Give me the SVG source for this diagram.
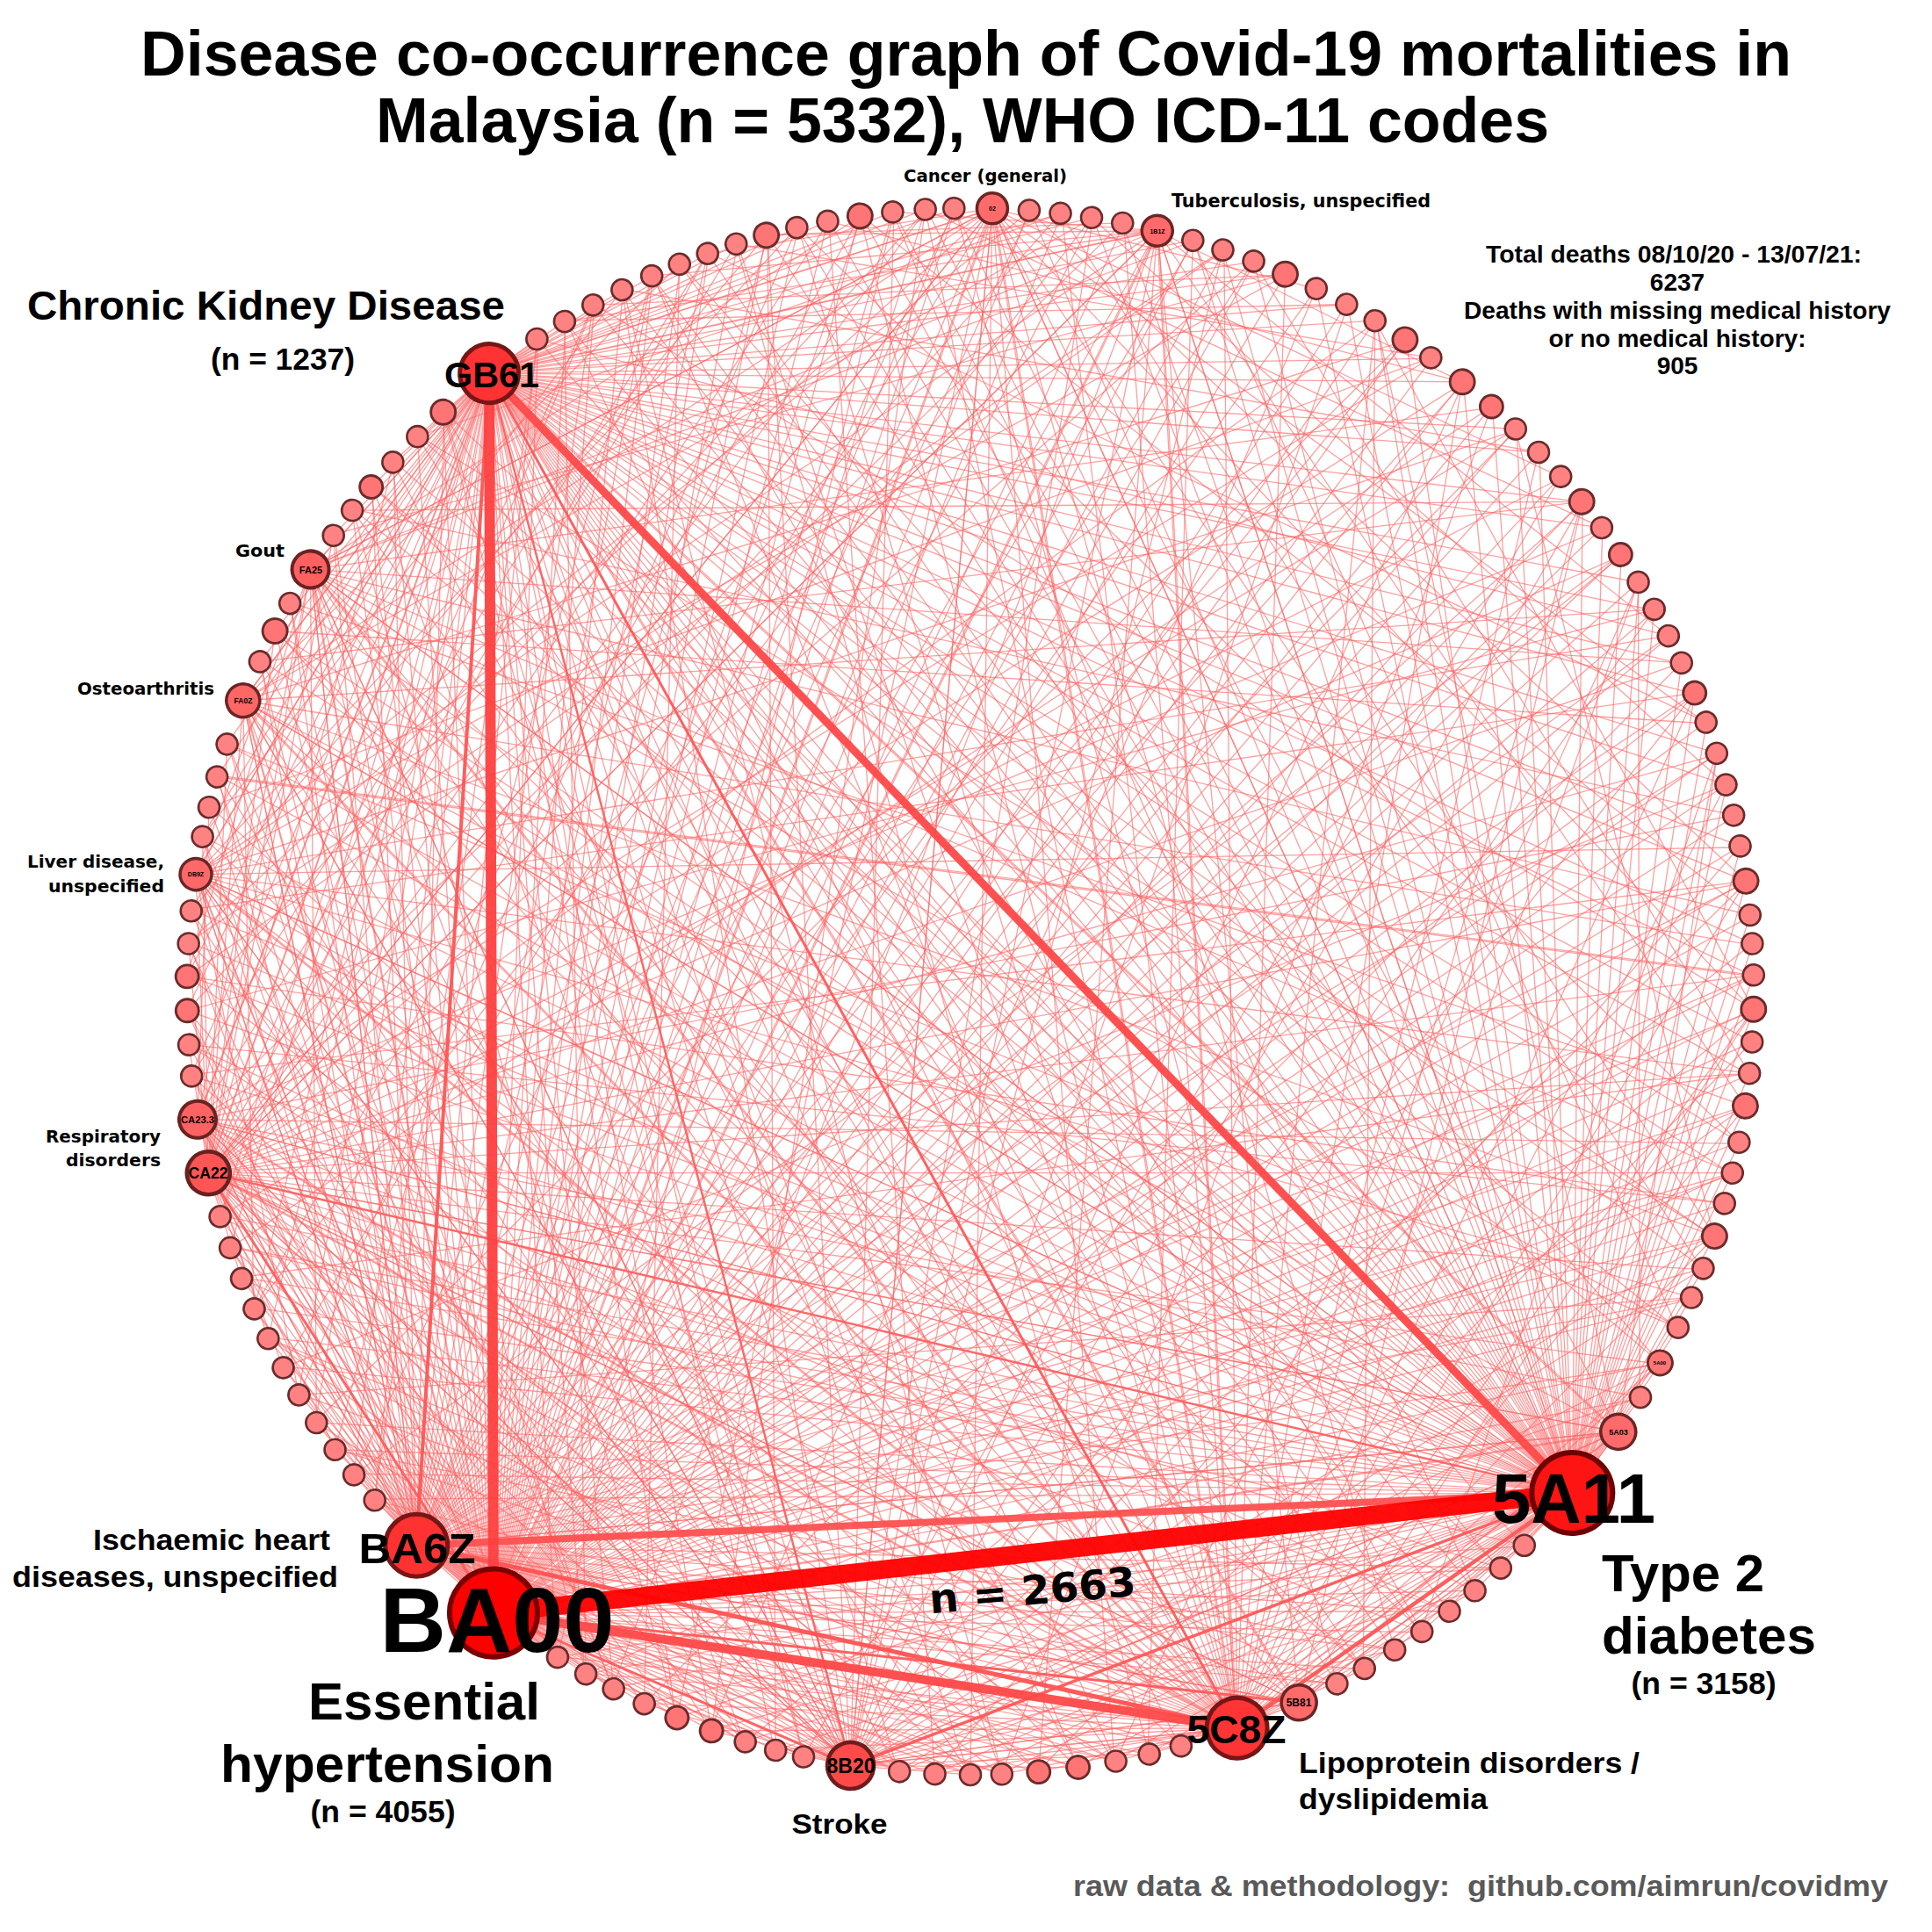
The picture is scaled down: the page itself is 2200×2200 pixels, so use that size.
<svg xmlns="http://www.w3.org/2000/svg" width="2200" height="2200" viewBox="0 0 2200 2200">
<style>
.t{stroke:#ff6464;stroke-width:1.3;stroke-opacity:.62;fill:none}
.k{fill:none;stroke-opacity:.95}
.s{fill:#ff8282;stroke:#6b2b2b;stroke-width:2.6}
.m{fill:#ff7575;stroke:#6b2b2b;stroke-width:2.9}
.a{font-family:"Liberation Sans",Arial,sans-serif;font-weight:bold;fill:#000}
.d{font-family:"DejaVu Sans",Verdana,sans-serif;font-weight:bold;fill:#000}
</style>
<defs>
<line id="e" x2="1800"/>
<clipPath id="cc"><circle cx="1105" cy="1129" r="892"/></clipPath>
</defs>
<rect width="2200" height="2200" fill="#fff"/>
<g id="title" class="a" text-anchor="middle" font-size="72">
<text x="1100" y="86" textLength="1880" lengthAdjust="spacingAndGlyphs">Disease co-occurrence graph of Covid-19 mortalities in</text>
<text x="1096" y="162" textLength="1336" lengthAdjust="spacingAndGlyphs">Malaysia (n = 5332), WHO ICD-11 codes</text>
</g>
<g id="stats" class="a" text-anchor="middle" font-size="28">
<text x="1906" y="299" textLength="428" lengthAdjust="spacingAndGlyphs">Total deaths 08/10/20 - 13/07/21:</text>
<text x="1910" y="331">6237</text>
<text x="1910" y="363" textLength="486" lengthAdjust="spacingAndGlyphs">Deaths with missing medical history</text>
<text x="1910" y="395" textLength="293" lengthAdjust="spacingAndGlyphs">or no medical history:</text>
<text x="1910" y="426">905</text>
</g>
<text id="footer" class="a" x="2150" y="2159" font-size="34" text-anchor="end" style="fill:#595959;white-space:pre" xml:space="preserve" textLength="928" lengthAdjust="spacingAndGlyphs">raw data &amp; methodology:  github.com/aimrun/covidmy</text>

<g id="edges" clip-path="url(#cc)">
<g transform="translate(1105 1129)">
<g class="t">
<g transform="rotate(217.5)translate(0 -892)">
<use href="#e" transform="rotate(72.1)"/><use href="#e" transform="rotate(73.4)"/><use href="#e" transform="rotate(74.6)"/><use href="#e" transform="rotate(76.9)"/><use href="#e" transform="rotate(78.2)"/><use href="#e" transform="rotate(79.5)"/><use href="#e" transform="rotate(80.7)"/><use href="#e" transform="rotate(81.9)"/><use href="#e" transform="rotate(83.1)"/><use href="#e" transform="rotate(85.6)"/><use href="#e" transform="rotate(86.8)"/><use href="#e" transform="rotate(88.1)"/><use href="#e" transform="rotate(89.3)"/><use href="#e" transform="rotate(90.7)"/><use href="#e" transform="rotate(92.1)"/><use href="#e" transform="rotate(93.3)"/><use href="#e" transform="rotate(94.5)"/><use href="#e" transform="rotate(95.7)"/><use href="#e" transform="rotate(96.9)"/><use href="#e" transform="rotate(98.1)"/><use href="#e" transform="rotate(99.3)"/><use href="#e" transform="rotate(100.5)"/><use href="#e" transform="rotate(101.7)"/><use href="#e" transform="rotate(102.8)"/><use href="#e" transform="rotate(105.1)"/><use href="#e" transform="rotate(106.2)"/><use href="#e" transform="rotate(107.4)"/><use href="#e" transform="rotate(108.6)"/><use href="#e" transform="rotate(109.8)"/><use href="#e" transform="rotate(110.9)"/><use href="#e" transform="rotate(112.2)"/><use href="#e" transform="rotate(113.5)"/><use href="#e" transform="rotate(115.7)"/><use href="#e" transform="rotate(116.9)"/><use href="#e" transform="rotate(118.1)"/><use href="#e" transform="rotate(119.3)"/><use href="#e" transform="rotate(120.5)"/><use href="#e" transform="rotate(121.8)"/><use href="#e" transform="rotate(123)"/><use href="#e" transform="rotate(124.1)"/><use href="#e" transform="rotate(125.4)"/><use href="#e" transform="rotate(126.6)"/><use href="#e" transform="rotate(127.8)"/><use href="#e" transform="rotate(130.4)"/><use href="#e" transform="rotate(131.9)"/><use href="#e" transform="rotate(133.4)"/><use href="#e" transform="rotate(138.8)"/><use href="#e" transform="rotate(140)"/><use href="#e" transform="rotate(141.2)"/><use href="#e" transform="rotate(142.4)"/><use href="#e" transform="rotate(143.7)"/><use href="#e" transform="rotate(146.2)"/><use href="#e" transform="rotate(147.3)"/><use href="#e" transform="rotate(148.9)"/><use href="#e" transform="rotate(153.5)"/><use href="#e" transform="rotate(154.7)"/><use href="#e" transform="rotate(155.9)"/><use href="#e" transform="rotate(157.3)"/><use href="#e" transform="rotate(158.8)"/><use href="#e" transform="rotate(160.1)"/><use href="#e" transform="rotate(161.3)"/><use href="#e" transform="rotate(162.6)"/><use href="#e" transform="rotate(163.9)"/><use href="#e" transform="rotate(167.4)"/><use href="#e" transform="rotate(168.5)"/><use href="#e" transform="rotate(169.6)"/><use href="#e" transform="rotate(170.9)"/><use href="#e" transform="rotate(172.3)"/><use href="#e" transform="rotate(173.6)"/><use href="#e" transform="rotate(174.8)"/><use href="#e" transform="rotate(176)"/><use href="#e" transform="rotate(177.2)"/><use href="#e" transform="rotate(6)"/><use href="#e" transform="rotate(7.2)"/><use href="#e" transform="rotate(8.4)"/><use href="#e" transform="rotate(9.6)"/><use href="#e" transform="rotate(10.8)"/><use href="#e" transform="rotate(11.9)"/><use href="#e" transform="rotate(13.1)"/><use href="#e" transform="rotate(14.3)"/><use href="#e" transform="rotate(15.5)"/><use href="#e" transform="rotate(16.7)"/><use href="#e" transform="rotate(17.9)"/><use href="#e" transform="rotate(21.6)"/><use href="#e" transform="rotate(23.2)"/><use href="#e" transform="rotate(24.3)"/><use href="#e" transform="rotate(25.6)"/><use href="#e" transform="rotate(28)"/><use href="#e" transform="rotate(29.2)"/><use href="#e" transform="rotate(30.6)"/><use href="#e" transform="rotate(32)"/><use href="#e" transform="rotate(33.1)"/><use href="#e" transform="rotate(34.2)"/><use href="#e" transform="rotate(35.5)"/><use href="#e" transform="rotate(37.2)"/><use href="#e" transform="rotate(38.7)"/><use href="#e" transform="rotate(40)"/><use href="#e" transform="rotate(41.1)"/><use href="#e" transform="rotate(42.6)"/><use href="#e" transform="rotate(44.1)"/><use href="#e" transform="rotate(45.2)"/><use href="#e" transform="rotate(46.3)"/><use href="#e" transform="rotate(47.5)"/><use href="#e" transform="rotate(48.8)"/><use href="#e" transform="rotate(50.1)"/><use href="#e" transform="rotate(54.5)"/><use href="#e" transform="rotate(55.7)"/><use href="#e" transform="rotate(56.9)"/><use href="#e" transform="rotate(58.1)"/><use href="#e" transform="rotate(59.3)"/><use href="#e" transform="rotate(60.4)"/><use href="#e" transform="rotate(61.5)"/><use href="#e" transform="rotate(62.6)"/><use href="#e" transform="rotate(63.7)"/><use href="#e" transform="rotate(64.9)"/><use href="#e" transform="rotate(66)"/><use href="#e" transform="rotate(67.2)"/><use href="#e" transform="rotate(68.4)"/><use href="#e" transform="rotate(69.6)"/><use href="#e" transform="rotate(70.7)"/>
</g>
<g transform="rotate(129.8)translate(0 -892)">
<use href="#e" transform="rotate(115.9)"/><use href="#e" transform="rotate(117.3)"/><use href="#e" transform="rotate(119.6)"/><use href="#e" transform="rotate(120.7)"/><use href="#e" transform="rotate(122)"/><use href="#e" transform="rotate(123.4)"/><use href="#e" transform="rotate(124.5)"/><use href="#e" transform="rotate(125.7)"/><use href="#e" transform="rotate(128.2)"/><use href="#e" transform="rotate(129.5)"/><use href="#e" transform="rotate(130.7)"/><use href="#e" transform="rotate(132)"/><use href="#e" transform="rotate(134.6)"/><use href="#e" transform="rotate(136)"/><use href="#e" transform="rotate(137.2)"/><use href="#e" transform="rotate(138.4)"/><use href="#e" transform="rotate(140.8)"/><use href="#e" transform="rotate(142)"/><use href="#e" transform="rotate(143.2)"/><use href="#e" transform="rotate(144.4)"/><use href="#e" transform="rotate(145.5)"/><use href="#e" transform="rotate(147.7)"/><use href="#e" transform="rotate(148.9)"/><use href="#e" transform="rotate(150.1)"/><use href="#e" transform="rotate(151.3)"/><use href="#e" transform="rotate(152.5)"/><use href="#e" transform="rotate(154.8)"/><use href="#e" transform="rotate(156.1)"/><use href="#e" transform="rotate(157.3)"/><use href="#e" transform="rotate(158.4)"/><use href="#e" transform="rotate(159.5)"/><use href="#e" transform="rotate(160.8)"/><use href="#e" transform="rotate(163.1)"/><use href="#e" transform="rotate(164.3)"/><use href="#e" transform="rotate(165.7)"/><use href="#e" transform="rotate(166.8)"/><use href="#e" transform="rotate(169.2)"/><use href="#e" transform="rotate(170.5)"/><use href="#e" transform="rotate(171.6)"/><use href="#e" transform="rotate(172.8)"/><use href="#e" transform="rotate(174.3)"/><use href="#e" transform="rotate(175.7)"/><use href="#e" transform="rotate(177.2)"/><use href="#e" transform="rotate(2.6)"/><use href="#e" transform="rotate(3.8)"/><use href="#e" transform="rotate(5.1)"/><use href="#e" transform="rotate(7.5)"/><use href="#e" transform="rotate(8.7)"/><use href="#e" transform="rotate(10)"/><use href="#e" transform="rotate(11.2)"/><use href="#e" transform="rotate(12.7)"/><use href="#e" transform="rotate(17.3)"/><use href="#e" transform="rotate(18.5)"/><use href="#e" transform="rotate(19.8)"/><use href="#e" transform="rotate(21.2)"/><use href="#e" transform="rotate(24)"/><use href="#e" transform="rotate(25.1)"/><use href="#e" transform="rotate(26.4)"/><use href="#e" transform="rotate(27.7)"/><use href="#e" transform="rotate(31.3)"/><use href="#e" transform="rotate(32.3)"/><use href="#e" transform="rotate(33.5)"/><use href="#e" transform="rotate(34.8)"/><use href="#e" transform="rotate(37.4)"/><use href="#e" transform="rotate(38.7)"/><use href="#e" transform="rotate(39.8)"/><use href="#e" transform="rotate(41)"/><use href="#e" transform="rotate(49.9)"/><use href="#e" transform="rotate(51.1)"/><use href="#e" transform="rotate(52.2)"/><use href="#e" transform="rotate(53.4)"/><use href="#e" transform="rotate(55.8)"/><use href="#e" transform="rotate(57)"/><use href="#e" transform="rotate(58.2)"/><use href="#e" transform="rotate(59.4)"/><use href="#e" transform="rotate(60.6)"/><use href="#e" transform="rotate(61.8)"/><use href="#e" transform="rotate(65.4)"/><use href="#e" transform="rotate(67)"/><use href="#e" transform="rotate(69.4)"/><use href="#e" transform="rotate(70.7)"/><use href="#e" transform="rotate(71.9)"/><use href="#e" transform="rotate(73.1)"/><use href="#e" transform="rotate(74.4)"/><use href="#e" transform="rotate(75.8)"/><use href="#e" transform="rotate(78.1)"/><use href="#e" transform="rotate(79.3)"/><use href="#e" transform="rotate(81)"/><use href="#e" transform="rotate(82.6)"/><use href="#e" transform="rotate(83.8)"/><use href="#e" transform="rotate(85)"/><use href="#e" transform="rotate(86.4)"/><use href="#e" transform="rotate(89.1)"/><use href="#e" transform="rotate(90.2)"/><use href="#e" transform="rotate(91.4)"/><use href="#e" transform="rotate(92.7)"/><use href="#e" transform="rotate(94)"/><use href="#e" transform="rotate(98.3)"/><use href="#e" transform="rotate(99.5)"/><use href="#e" transform="rotate(100.7)"/><use href="#e" transform="rotate(101.9)"/><use href="#e" transform="rotate(103.1)"/><use href="#e" transform="rotate(104.2)"/><use href="#e" transform="rotate(105.3)"/><use href="#e" transform="rotate(107.6)"/><use href="#e" transform="rotate(108.7)"/><use href="#e" transform="rotate(109.9)"/><use href="#e" transform="rotate(111.1)"/><use href="#e" transform="rotate(112.3)"/><use href="#e" transform="rotate(113.5)"/><use href="#e" transform="rotate(114.5)"/>
</g>
<g transform="rotate(322.1)translate(0 -892)">
<use href="#e" transform="rotate(19.8)"/><use href="#e" transform="rotate(22.3)"/><use href="#e" transform="rotate(23.4)"/><use href="#e" transform="rotate(25.9)"/><use href="#e" transform="rotate(27.2)"/><use href="#e" transform="rotate(29.6)"/><use href="#e" transform="rotate(30.8)"/><use href="#e" transform="rotate(33.3)"/><use href="#e" transform="rotate(34.5)"/><use href="#e" transform="rotate(37)"/><use href="#e" transform="rotate(38.4)"/><use href="#e" transform="rotate(41)"/><use href="#e" transform="rotate(42.2)"/><use href="#e" transform="rotate(44.6)"/><use href="#e" transform="rotate(45.8)"/><use href="#e" transform="rotate(48.2)"/><use href="#e" transform="rotate(49.4)"/><use href="#e" transform="rotate(51.6)"/><use href="#e" transform="rotate(52.8)"/><use href="#e" transform="rotate(55.1)"/><use href="#e" transform="rotate(56.3)"/><use href="#e" transform="rotate(58.6)"/><use href="#e" transform="rotate(59.9)"/><use href="#e" transform="rotate(62.2)"/><use href="#e" transform="rotate(63.4)"/><use href="#e" transform="rotate(65.8)"/><use href="#e" transform="rotate(67)"/><use href="#e" transform="rotate(69.5)"/><use href="#e" transform="rotate(70.7)"/><use href="#e" transform="rotate(73.1)"/><use href="#e" transform="rotate(74.3)"/><use href="#e" transform="rotate(76.7)"/><use href="#e" transform="rotate(78.1)"/><use href="#e" transform="rotate(81.1)"/><use href="#e" transform="rotate(86.5)"/><use href="#e" transform="rotate(87.7)"/><use href="#e" transform="rotate(88.9)"/><use href="#e" transform="rotate(90.1)"/><use href="#e" transform="rotate(91.4)"/><use href="#e" transform="rotate(92.6)"/><use href="#e" transform="rotate(93.9)"/><use href="#e" transform="rotate(95)"/><use href="#e" transform="rotate(96.6)"/><use href="#e" transform="rotate(101.2)"/><use href="#e" transform="rotate(103.6)"/><use href="#e" transform="rotate(105)"/><use href="#e" transform="rotate(107.8)"/><use href="#e" transform="rotate(109)"/><use href="#e" transform="rotate(111.6)"/><use href="#e" transform="rotate(115.1)"/><use href="#e" transform="rotate(116.2)"/><use href="#e" transform="rotate(118.6)"/><use href="#e" transform="rotate(120)"/><use href="#e" transform="rotate(122.5)"/><use href="#e" transform="rotate(123.7)"/><use href="#e" transform="rotate(124.9)"/><use href="#e" transform="rotate(133.7)"/><use href="#e" transform="rotate(134.9)"/><use href="#e" transform="rotate(137.3)"/><use href="#e" transform="rotate(138.5)"/><use href="#e" transform="rotate(140.8)"/><use href="#e" transform="rotate(142)"/><use href="#e" transform="rotate(144.4)"/><use href="#e" transform="rotate(145.6)"/><use href="#e" transform="rotate(147.3)"/><use href="#e" transform="rotate(149.3)"/><use href="#e" transform="rotate(150.9)"/><use href="#e" transform="rotate(153.3)"/><use href="#e" transform="rotate(154.5)"/><use href="#e" transform="rotate(156.9)"/><use href="#e" transform="rotate(158.3)"/><use href="#e" transform="rotate(159.7)"/><use href="#e" transform="rotate(161.9)"/><use href="#e" transform="rotate(163.2)"/><use href="#e" transform="rotate(164.9)"/><use href="#e" transform="rotate(166.4)"/><use href="#e" transform="rotate(167.7)"/><use href="#e" transform="rotate(170.3)"/><use href="#e" transform="rotate(171.8)"/><use href="#e" transform="rotate(174)"/><use href="#e" transform="rotate(175.2)"/><use href="#e" transform="rotate(176.5)"/><use href="#e" transform="rotate(177.8)"/><use href="#e" transform="rotate(2.2)"/><use href="#e" transform="rotate(3.4)"/><use href="#e" transform="rotate(5.8)"/><use href="#e" transform="rotate(7)"/><use href="#e" transform="rotate(9.2)"/><use href="#e" transform="rotate(10.3)"/><use href="#e" transform="rotate(12.6)"/><use href="#e" transform="rotate(13.7)"/><use href="#e" transform="rotate(16.1)"/><use href="#e" transform="rotate(17.3)"/><use href="#e" transform="rotate(18.4)"/>
</g>
<g transform="rotate(160.1)translate(0 -892)">
<use href="#e" transform="rotate(100.8)"/><use href="#e" transform="rotate(103.3)"/><use href="#e" transform="rotate(105.6)"/><use href="#e" transform="rotate(106.9)"/><use href="#e" transform="rotate(109.4)"/><use href="#e" transform="rotate(111.8)"/><use href="#e" transform="rotate(115.5)"/><use href="#e" transform="rotate(119.4)"/><use href="#e" transform="rotate(123.2)"/><use href="#e" transform="rotate(125.6)"/><use href="#e" transform="rotate(129.2)"/><use href="#e" transform="rotate(133.8)"/><use href="#e" transform="rotate(137.3)"/><use href="#e" transform="rotate(140.9)"/><use href="#e" transform="rotate(145.6)"/><use href="#e" transform="rotate(149.2)"/><use href="#e" transform="rotate(154.1)"/><use href="#e" transform="rotate(159.1)"/><use href="#e" transform="rotate(162.1)"/><use href="#e" transform="rotate(167.5)"/><use href="#e" transform="rotate(169.9)"/><use href="#e" transform="rotate(172.4)"/><use href="#e" transform="rotate(174.9)"/><use href="#e" transform="rotate(177.5)"/><use href="#e" transform="rotate(2.2)"/><use href="#e" transform="rotate(3.4)"/><use href="#e" transform="rotate(4.6)"/><use href="#e" transform="rotate(7.5)"/><use href="#e" transform="rotate(8.8)"/><use href="#e" transform="rotate(11.3)"/><use href="#e" transform="rotate(12.6)"/><use href="#e" transform="rotate(14.4)"/><use href="#e" transform="rotate(17.2)"/><use href="#e" transform="rotate(19.6)"/><use href="#e" transform="rotate(22.3)"/><use href="#e" transform="rotate(24.7)"/><use href="#e" transform="rotate(25.9)"/><use href="#e" transform="rotate(34.7)"/><use href="#e" transform="rotate(37.1)"/><use href="#e" transform="rotate(39.5)"/><use href="#e" transform="rotate(41.8)"/><use href="#e" transform="rotate(44.2)"/><use href="#e" transform="rotate(46.6)"/><use href="#e" transform="rotate(48.3)"/><use href="#e" transform="rotate(50.3)"/><use href="#e" transform="rotate(53)"/><use href="#e" transform="rotate(55.5)"/><use href="#e" transform="rotate(59.3)"/><use href="#e" transform="rotate(61.8)"/><use href="#e" transform="rotate(65.9)"/><use href="#e" transform="rotate(68.7)"/><use href="#e" transform="rotate(71.3)"/><use href="#e" transform="rotate(73.9)"/><use href="#e" transform="rotate(77.5)"/><use href="#e" transform="rotate(78.8)"/><use href="#e" transform="rotate(84.4)"/><use href="#e" transform="rotate(88)"/><use href="#e" transform="rotate(91.3)"/><use href="#e" transform="rotate(93.6)"/><use href="#e" transform="rotate(95.9)"/><use href="#e" transform="rotate(98.3)"/>
</g>
<g transform="rotate(225)translate(0 -892)">
<use href="#e" transform="rotate(69.7)"/><use href="#e" transform="rotate(72)"/><use href="#e" transform="rotate(75.8)"/><use href="#e" transform="rotate(78.1)"/><use href="#e" transform="rotate(80.6)"/><use href="#e" transform="rotate(84.4)"/><use href="#e" transform="rotate(87)"/><use href="#e" transform="rotate(89.6)"/><use href="#e" transform="rotate(93.2)"/><use href="#e" transform="rotate(95.6)"/><use href="#e" transform="rotate(99)"/><use href="#e" transform="rotate(101.3)"/><use href="#e" transform="rotate(103.7)"/><use href="#e" transform="rotate(108.5)"/><use href="#e" transform="rotate(111.9)"/><use href="#e" transform="rotate(113.2)"/><use href="#e" transform="rotate(116.7)"/><use href="#e" transform="rotate(119.2)"/><use href="#e" transform="rotate(121.6)"/><use href="#e" transform="rotate(124)"/><use href="#e" transform="rotate(126.7)"/><use href="#e" transform="rotate(129.6)"/><use href="#e" transform="rotate(136.2)"/><use href="#e" transform="rotate(138.7)"/><use href="#e" transform="rotate(141.1)"/><use href="#e" transform="rotate(143.6)"/><use href="#e" transform="rotate(145.1)"/><use href="#e" transform="rotate(149.7)"/><use href="#e" transform="rotate(152.2)"/><use href="#e" transform="rotate(153.6)"/><use href="#e" transform="rotate(156.4)"/><use href="#e" transform="rotate(157.5)"/><use href="#e" transform="rotate(160.1)"/><use href="#e" transform="rotate(161.9)"/><use href="#e" transform="rotate(163.7)"/><use href="#e" transform="rotate(165.9)"/><use href="#e" transform="rotate(168.5)"/><use href="#e" transform="rotate(171.1)"/><use href="#e" transform="rotate(173.4)"/><use href="#e" transform="rotate(176.3)"/><use href="#e" transform="rotate(3.5)"/><use href="#e" transform="rotate(5.8)"/><use href="#e" transform="rotate(8.2)"/><use href="#e" transform="rotate(10.6)"/><use href="#e" transform="rotate(13)"/><use href="#e" transform="rotate(15.8)"/><use href="#e" transform="rotate(17.8)"/><use href="#e" transform="rotate(19.4)"/><use href="#e" transform="rotate(21.8)"/><use href="#e" transform="rotate(24.3)"/><use href="#e" transform="rotate(26.8)"/><use href="#e" transform="rotate(28.2)"/><use href="#e" transform="rotate(30.5)"/><use href="#e" transform="rotate(33.4)"/><use href="#e" transform="rotate(35)"/><use href="#e" transform="rotate(37.4)"/><use href="#e" transform="rotate(38.8)"/><use href="#e" transform="rotate(40.3)"/><use href="#e" transform="rotate(42.6)"/><use href="#e" transform="rotate(43.8)"/><use href="#e" transform="rotate(46.4)"/><use href="#e" transform="rotate(50.7)"/><use href="#e" transform="rotate(53.1)"/><use href="#e" transform="rotate(55.5)"/><use href="#e" transform="rotate(57.7)"/><use href="#e" transform="rotate(60)"/><use href="#e" transform="rotate(63.5)"/><use href="#e" transform="rotate(66.9)"/>
</g>
<g transform="rotate(188.8)translate(0 -892)">
<use href="#e" transform="rotate(86.4)"/><use href="#e" transform="rotate(90.1)"/><use href="#e" transform="rotate(95)"/><use href="#e" transform="rotate(100)"/><use href="#e" transform="rotate(105.1)"/><use href="#e" transform="rotate(111.3)"/><use href="#e" transform="rotate(116)"/><use href="#e" transform="rotate(119.4)"/><use href="#e" transform="rotate(126.6)"/><use href="#e" transform="rotate(131.3)"/><use href="#e" transform="rotate(134.8)"/><use href="#e" transform="rotate(139.7)"/><use href="#e" transform="rotate(144.8)"/><use href="#e" transform="rotate(147.7)"/><use href="#e" transform="rotate(155.6)"/><use href="#e" transform="rotate(159.2)"/><use href="#e" transform="rotate(163.2)"/><use href="#e" transform="rotate(165.7)"/><use href="#e" transform="rotate(169)"/><use href="#e" transform="rotate(171.7)"/><use href="#e" transform="rotate(175.6)"/><use href="#e" transform="rotate(2.8)"/><use href="#e" transform="rotate(5.3)"/><use href="#e" transform="rotate(7.9)"/><use href="#e" transform="rotate(10.3)"/><use href="#e" transform="rotate(20.4)"/><use href="#e" transform="rotate(23.9)"/><use href="#e" transform="rotate(27.5)"/><use href="#e" transform="rotate(31.1)"/><use href="#e" transform="rotate(33.9)"/><use href="#e" transform="rotate(35.9)"/><use href="#e" transform="rotate(39.9)"/><use href="#e" transform="rotate(44.9)"/><use href="#e" transform="rotate(48.6)"/><use href="#e" transform="rotate(51.5)"/><use href="#e" transform="rotate(56.9)"/><use href="#e" transform="rotate(60.7)"/><use href="#e" transform="rotate(64.5)"/><use href="#e" transform="rotate(72.4)"/><use href="#e" transform="rotate(78.1)"/><use href="#e" transform="rotate(82.8)"/>
</g>
<g transform="rotate(256.6)translate(0 -892)">
<use href="#e" transform="rotate(52.5)"/><use href="#e" transform="rotate(55)"/><use href="#e" transform="rotate(58.6)"/><use href="#e" transform="rotate(62.3)"/><use href="#e" transform="rotate(67.3)"/><use href="#e" transform="rotate(71.2)"/><use href="#e" transform="rotate(76.2)"/><use href="#e" transform="rotate(79.8)"/><use href="#e" transform="rotate(84.3)"/><use href="#e" transform="rotate(87.9)"/><use href="#e" transform="rotate(92.7)"/><use href="#e" transform="rotate(96.1)"/><use href="#e" transform="rotate(99.7)"/><use href="#e" transform="rotate(103.4)"/><use href="#e" transform="rotate(107.1)"/><use href="#e" transform="rotate(110.9)"/><use href="#e" transform="rotate(113.8)"/><use href="#e" transform="rotate(120.4)"/><use href="#e" transform="rotate(124.1)"/><use href="#e" transform="rotate(127.8)"/><use href="#e" transform="rotate(129.3)"/><use href="#e" transform="rotate(131.8)"/><use href="#e" transform="rotate(136.4)"/><use href="#e" transform="rotate(140.6)"/><use href="#e" transform="rotate(144.3)"/><use href="#e" transform="rotate(146.1)"/><use href="#e" transform="rotate(150.1)"/><use href="#e" transform="rotate(154)"/><use href="#e" transform="rotate(157.6)"/><use href="#e" transform="rotate(164.2)"/><use href="#e" transform="rotate(168.8)"/><use href="#e" transform="rotate(172.4)"/><use href="#e" transform="rotate(176)"/><use href="#e" transform="rotate(4.8)"/><use href="#e" transform="rotate(8.5)"/><use href="#e" transform="rotate(12.4)"/><use href="#e" transform="rotate(15.9)"/><use href="#e" transform="rotate(20.4)"/><use href="#e" transform="rotate(24.5)"/><use href="#e" transform="rotate(28)"/><use href="#e" transform="rotate(32.8)"/><use href="#e" transform="rotate(37.3)"/><use href="#e" transform="rotate(41.9)"/><use href="#e" transform="rotate(46.5)"/><use href="#e" transform="rotate(50.1)"/>
</g>
<g transform="rotate(260.6)translate(0 -892)">
<use href="#e" transform="rotate(55.3)"/><use href="#e" transform="rotate(67.7)"/><use href="#e" transform="rotate(76.6)"/><use href="#e" transform="rotate(88.2)"/><use href="#e" transform="rotate(100.3)"/><use href="#e" transform="rotate(110.3)"/><use href="#e" transform="rotate(114.6)"/><use href="#e" transform="rotate(120.9)"/><use href="#e" transform="rotate(129.8)"/><use href="#e" transform="rotate(137.2)"/><use href="#e" transform="rotate(144.1)"/><use href="#e" transform="rotate(150.7)"/><use href="#e" transform="rotate(158.5)"/><use href="#e" transform="rotate(162.2)"/><use href="#e" transform="rotate(171.6)"/><use href="#e" transform="rotate(11.5)"/><use href="#e" transform="rotate(21)"/><use href="#e" transform="rotate(30.8)"/><use href="#e" transform="rotate(41)"/>
</g>
<g transform="rotate(278.6)translate(0 -892)">
<use href="#e" transform="rotate(42.9)"/><use href="#e" transform="rotate(52.6)"/><use href="#e" transform="rotate(62.8)"/><use href="#e" transform="rotate(72.2)"/><use href="#e" transform="rotate(80.4)"/><use href="#e" transform="rotate(88.7)"/><use href="#e" transform="rotate(97.2)"/><use href="#e" transform="rotate(105.6)"/><use href="#e" transform="rotate(110.7)"/><use href="#e" transform="rotate(120.8)"/><use href="#e" transform="rotate(126.8)"/><use href="#e" transform="rotate(135.1)"/><use href="#e" transform="rotate(140.4)"/><use href="#e" transform="rotate(149.5)"/><use href="#e" transform="rotate(153.2)"/><use href="#e" transform="rotate(160.2)"/><use href="#e" transform="rotate(169)"/><use href="#e" transform="rotate(12)"/><use href="#e" transform="rotate(21.8)"/><use href="#e" transform="rotate(34.3)"/>
</g>
<g transform="rotate(291.8)translate(0 -892)">
<use href="#e" transform="rotate(38.6)"/><use href="#e" transform="rotate(51)"/><use href="#e" transform="rotate(64.5)"/><use href="#e" transform="rotate(77.4)"/><use href="#e" transform="rotate(88.2)"/><use href="#e" transform="rotate(99)"/><use href="#e" transform="rotate(109)"/><use href="#e" transform="rotate(114.2)"/><use href="#e" transform="rotate(124.1)"/><use href="#e" transform="rotate(128.5)"/><use href="#e" transform="rotate(137.7)"/><use href="#e" transform="rotate(142.9)"/><use href="#e" transform="rotate(146.6)"/><use href="#e" transform="rotate(157.2)"/><use href="#e" transform="rotate(162.4)"/><use href="#e" transform="rotate(15.2)"/><use href="#e" transform="rotate(23.2)"/>
</g>
<g transform="rotate(302.6)translate(0 -892)">
<use href="#e" transform="rotate(29.5)"/><use href="#e" transform="rotate(37)"/><use href="#e" transform="rotate(49.6)"/><use href="#e" transform="rotate(61.3)"/><use href="#e" transform="rotate(70.9)"/><use href="#e" transform="rotate(80.4)"/><use href="#e" transform="rotate(86.4)"/><use href="#e" transform="rotate(93.6)"/><use href="#e" transform="rotate(101.1)"/><use href="#e" transform="rotate(108.8)"/><use href="#e" transform="rotate(113.4)"/><use href="#e" transform="rotate(123.1)"/><use href="#e" transform="rotate(127.1)"/><use href="#e" transform="rotate(133.4)"/><use href="#e" transform="rotate(137.5)"/><use href="#e" transform="rotate(141.2)"/><use href="#e" transform="rotate(147)"/><use href="#e" transform="rotate(157)"/><use href="#e" transform="rotate(164.3)"/><use href="#e" transform="rotate(9.8)"/><use href="#e" transform="rotate(24.7)"/>
</g>
<g transform="rotate(1.6)translate(0 -892)">
<use href="#e" transform="rotate(12.3)"/><use href="#e" transform="rotate(23.7)"/><use href="#e" transform="rotate(34.2)"/><use href="#e" transform="rotate(44.9)"/><use href="#e" transform="rotate(54.6)"/><use href="#e" transform="rotate(64.1)"/><use href="#e" transform="rotate(72.8)"/><use href="#e" transform="rotate(79.3)"/><use href="#e" transform="rotate(83.9)"/><use href="#e" transform="rotate(89.2)"/><use href="#e" transform="rotate(93.6)"/><use href="#e" transform="rotate(100.2)"/><use href="#e" transform="rotate(108)"/><use href="#e" transform="rotate(111.7)"/><use href="#e" transform="rotate(119.9)"/><use href="#e" transform="rotate(127.5)"/><use href="#e" transform="rotate(136)"/><use href="#e" transform="rotate(145.1)"/><use href="#e" transform="rotate(150.5)"/><use href="#e" transform="rotate(160.3)"/><use href="#e" transform="rotate(169.4)"/>
</g>
<g transform="rotate(13.8)translate(0 -892)">
<use href="#e" transform="rotate(12.6)"/><use href="#e" transform="rotate(24.6)"/><use href="#e" transform="rotate(42.3)"/><use href="#e" transform="rotate(58)"/><use href="#e" transform="rotate(73.2)"/><use href="#e" transform="rotate(80.6)"/><use href="#e" transform="rotate(87.5)"/><use href="#e" transform="rotate(96.7)"/><use href="#e" transform="rotate(101.9)"/><use href="#e" transform="rotate(105.6)"/><use href="#e" transform="rotate(121.4)"/><use href="#e" transform="rotate(132.4)"/><use href="#e" transform="rotate(144.4)"/><use href="#e" transform="rotate(154.2)"/><use href="#e" transform="rotate(161.1)"/><use href="#e" transform="rotate(170.3)"/><use href="#e" transform="rotate(165.6)"/><use href="#e" transform="rotate(157.5)"/>
</g>
<g transform="rotate(155.2)translate(0 -892)">
<use href="#e" transform="rotate(109.3)"/><use href="#e" transform="rotate(128.1)"/><use href="#e" transform="rotate(148.1)"/><use href="#e" transform="rotate(161.6)"/><use href="#e" transform="rotate(167.3)"/><use href="#e" transform="rotate(2.5)"/><use href="#e" transform="rotate(16.8)"/><use href="#e" transform="rotate(34.9)"/><use href="#e" transform="rotate(50.7)"/><use href="#e" transform="rotate(61.7)"/><use href="#e" transform="rotate(73.7)"/><use href="#e" transform="rotate(83.5)"/>
</g>
<g transform="rotate(124.2)translate(0 -892)">
<use href="#e" transform="rotate(118.7)"/><use href="#e" transform="rotate(133.5)"/><use href="#e" transform="rotate(154.1)"/><use href="#e" transform="rotate(2.8)"/><use href="#e" transform="rotate(18)"/><use href="#e" transform="rotate(32.3)"/><use href="#e" transform="rotate(46.7)"/><use href="#e" transform="rotate(50.4)"/><use href="#e" transform="rotate(66.2)"/><use href="#e" transform="rotate(83.8)"/><use href="#e" transform="rotate(99)"/>
</g>
<g id="misc">
<use href="#e" transform="rotate(4.3)translate(0 -892)rotate(38.8)"/><use href="#e" transform="rotate(6.6)translate(0 -892)rotate(50.8)"/><use href="#e" transform="rotate(8.9)translate(0 -892)rotate(118.6)"/><use href="#e" transform="rotate(11.2)translate(0 -892)rotate(166.9)"/><use href="#e" transform="rotate(16.5)translate(0 -892)rotate(75.2)"/><use href="#e" transform="rotate(18.8)translate(0 -892)rotate(127.4)"/><use href="#e" transform="rotate(21.2)translate(0 -892)rotate(37.4)"/><use href="#e" transform="rotate(23.7)translate(0 -892)rotate(141)"/><use href="#e" transform="rotate(26.2)translate(0 -892)rotate(86.6)"/><use href="#e" transform="rotate(28.7)translate(0 -892)rotate(150.1)"/><use href="#e" transform="rotate(31.1)translate(0 -892)rotate(59.4)"/><use href="#e" transform="rotate(33.7)translate(0 -892)rotate(101.5)"/><use href="#e" transform="rotate(36)translate(0 -892)rotate(123.8)"/><use href="#e" transform="rotate(38.9)translate(0 -892)rotate(155.3)"/><use href="#e" transform="rotate(41.7)translate(0 -892)rotate(68)"/><use href="#e" transform="rotate(44.1)translate(0 -892)rotate(104.6)"/><use href="#e" transform="rotate(46.5)translate(0 -892)rotate(143.6)"/><use href="#e" transform="rotate(48.9)translate(0 -892)rotate(71.7)"/><use href="#e" transform="rotate(51.3)translate(0 -892)rotate(121.8)"/><use href="#e" transform="rotate(53.7)translate(0 -892)rotate(151.5)"/><use href="#e" transform="rotate(56.1)translate(0 -892)rotate(87.9)"/><use href="#e" transform="rotate(58.5)translate(0 -892)rotate(55.4)"/><use href="#e" transform="rotate(60.8)translate(0 -892)rotate(103.9)"/><use href="#e" transform="rotate(63)translate(0 -892)rotate(131.7)"/><use href="#e" transform="rotate(65.2)translate(0 -892)rotate(69.7)"/><use href="#e" transform="rotate(67.6)translate(0 -892)rotate(104.2)"/><use href="#e" transform="rotate(69.9)translate(0 -892)rotate(135.3)"/><use href="#e" transform="rotate(72.3)translate(0 -892)rotate(36.3)"/><use href="#e" transform="rotate(74.7)translate(0 -892)rotate(83.3)"/><use href="#e" transform="rotate(77)translate(0 -892)rotate(115.5)"/><use href="#e" transform="rotate(79.3)translate(0 -892)rotate(51.7)"/><use href="#e" transform="rotate(81.9)translate(0 -892)rotate(91)"/><use href="#e" transform="rotate(84.4)translate(0 -892)rotate(133.8)"/><use href="#e" transform="rotate(86.5)translate(0 -892)rotate(55.1)"/><use href="#e" transform="rotate(88.8)translate(0 -892)rotate(98.6)"/><use href="#e" transform="rotate(91.3)translate(0 -892)rotate(120)"/><use href="#e" transform="rotate(93.7)translate(0 -892)rotate(40.7)"/><use href="#e" transform="rotate(96)translate(0 -892)rotate(76.3)"/><use href="#e" transform="rotate(98.4)translate(0 -892)rotate(100.7)"/><use href="#e" transform="rotate(101.1)translate(0 -892)rotate(123.1)"/><use href="#e" transform="rotate(103.4)translate(0 -892)rotate(53)"/><use href="#e" transform="rotate(105.7)translate(0 -892)rotate(82.7)"/><use href="#e" transform="rotate(108.2)translate(0 -892)rotate(103.5)"/><use href="#e" transform="rotate(110.7)translate(0 -892)rotate(37.3)"/><use href="#e" transform="rotate(113)translate(0 -892)rotate(63)"/><use href="#e" transform="rotate(115.4)translate(0 -892)rotate(86.5)"/><use href="#e" transform="rotate(118.3)translate(0 -892)rotate(110)"/><use href="#e" transform="rotate(121.2)translate(0 -892)rotate(40.4)"/><use href="#e" transform="rotate(135)translate(0 -892)rotate(58)"/><use href="#e" transform="rotate(137.4)translate(0 -892)rotate(86.4)"/><use href="#e" transform="rotate(139.9)translate(0 -892)rotate(107.2)"/><use href="#e" transform="rotate(142.3)translate(0 -892)rotate(61.9)"/><use href="#e" transform="rotate(144.8)translate(0 -892)rotate(95.6)"/><use href="#e" transform="rotate(147.2)translate(0 -892)rotate(43.5)"/><use href="#e" transform="rotate(149.8)translate(0 -892)rotate(73.8)"/><use href="#e" transform="rotate(152.1)translate(0 -892)rotate(103.4)"/><use href="#e" transform="rotate(164.4)translate(0 -892)rotate(58.5)"/><use href="#e" transform="rotate(166.8)translate(0 -892)rotate(87.9)"/><use href="#e" transform="rotate(169.3)translate(0 -892)rotate(37.2)"/><use href="#e" transform="rotate(172.1)translate(0 -892)rotate(70.2)"/><use href="#e" transform="rotate(175)translate(0 -892)rotate(49.3)"/><use href="#e" transform="rotate(177.7)translate(0 -892)rotate(78)"/><use href="#e" transform="rotate(180)translate(0 -892)rotate(41.9)"/><use href="#e" transform="rotate(182.6)translate(0 -892)rotate(83.5)"/><use href="#e" transform="rotate(185.2)translate(0 -892)rotate(54.9)"/><use href="#e" transform="rotate(192.3)translate(0 -892)rotate(62.7)"/><use href="#e" transform="rotate(194.4)translate(0 -892)rotate(75.3)"/><use href="#e" transform="rotate(196.7)translate(0 -892)rotate(39.6)"/><use href="#e" transform="rotate(199.3)translate(0 -892)rotate(78.7)"/><use href="#e" transform="rotate(202)translate(0 -892)rotate(53)"/><use href="#e" transform="rotate(204.6)translate(0 -892)rotate(66.8)"/><use href="#e" transform="rotate(207.1)translate(0 -892)rotate(40.7)"/><use href="#e" transform="rotate(209.4)translate(0 -892)rotate(59.7)"/><use href="#e" transform="rotate(211.8)translate(0 -892)rotate(71.3)"/><use href="#e" transform="rotate(229.5)translate(0 -892)rotate(48.5)"/><use href="#e" transform="rotate(231.9)translate(0 -892)rotate(63.5)"/><use href="#e" transform="rotate(234.2)translate(0 -892)rotate(50.9)"/><use href="#e" transform="rotate(239)translate(0 -892)rotate(54.1)"/><use href="#e" transform="rotate(246.1)translate(0 -892)rotate(52.9)"/><use href="#e" transform="rotate(253.3)translate(0 -892)rotate(39)"/><use href="#e" transform="rotate(263.8)translate(0 -892)rotate(38.3)"/><use href="#e" transform="rotate(268.6)translate(0 -892)rotate(44.1)"/><use href="#e" transform="rotate(275.9)translate(0 -892)rotate(34.5)"/><use href="#e" transform="rotate(281.4)translate(0 -892)rotate(26.1)"/><use href="#e" transform="rotate(8.9)translate(0 -892)rotate(32.9)"/><use href="#e" transform="rotate(16.5)translate(0 -892)rotate(49.5)"/><use href="#e" transform="rotate(31.1)translate(0 -892)rotate(30.1)"/><use href="#e" transform="rotate(44.1)translate(0 -892)rotate(32.1)"/><use href="#e" transform="rotate(58.5)translate(0 -892)rotate(31.4)"/><use href="#e" transform="rotate(331.2)translate(0 -892)rotate(26.3)"/><use href="#e" transform="rotate(342.6)translate(0 -892)rotate(26.7)"/><use href="#e" transform="rotate(315.1)translate(0 -892)rotate(25.8)"/><use href="#e" transform="rotate(307.9)translate(0 -892)rotate(51.7)"/><use href="#e" transform="rotate(297.4)translate(0 -892)rotate(66.3)"/><use href="#e" transform="rotate(285.9)translate(0 -892)rotate(81.5)"/><use href="#e" transform="rotate(271.1)translate(0 -892)rotate(53.9)"/><use href="#e" transform="rotate(266.1)translate(0 -892)rotate(99.8)"/><use href="#e" transform="rotate(250.9)translate(0 -892)rotate(75.4)"/>
</g>
</g>
<g class="k">
<use href="#e" transform="rotate(188.8)translate(0 -892)rotate(66.65)" style="stroke:#ff6060;stroke-width:2.5"/>
<use href="#e" transform="rotate(129.8)translate(0 -892)rotate(63.4)" style="stroke:#ff6060;stroke-width:2.5"/>
<use href="#e" transform="rotate(217.5)translate(0 -892)rotate(19.55)" style="stroke:#ff5c5c;stroke-width:3"/>
<use href="#e" transform="rotate(188.8)translate(0 -892)rotate(14.35)" style="stroke:#ff5c5c;stroke-width:3"/>
<use href="#e" transform="rotate(155.2)translate(0 -892)rotate(31.15)" style="stroke:#ff5c5c;stroke-width:3"/>
<use href="#e" transform="rotate(129.8)translate(0 -892)rotate(29.5)" style="stroke:#ff5858;stroke-width:3.5"/>
<use href="#e" transform="rotate(160.1)translate(0 -892)rotate(81)" style="stroke:#ff5858;stroke-width:3"/>
<use href="#e" transform="rotate(225)translate(0 -892)rotate(48.55)" style="stroke:#ff5555;stroke-width:4"/>
<use href="#e" transform="rotate(129.8)translate(0 -892)rotate(15.15)" style="stroke:#ff5555;stroke-width:4.5"/>
<use href="#e" transform="rotate(160.1)translate(0 -892)rotate(32.45)" style="stroke:#ff5252;stroke-width:5"/>
<use href="#e" transform="rotate(129.8)translate(0 -892)rotate(47.6)" style="stroke:#ff5050;stroke-width:8"/>
<use href="#e" transform="rotate(160.1)translate(0 -892)rotate(28.7)" style="stroke:#ff4848;stroke-width:10"/>
<use href="#e" transform="rotate(322.1)translate(0 -892)rotate(83.85)" style="stroke:#ff4848;stroke-width:9"/>
<use href="#e" transform="rotate(217.5)translate(0 -892)rotate(52.3)" style="stroke:#ff4040;stroke-width:12"/>
<use href="#e" transform="rotate(129.8)translate(0 -892)rotate(43.85)" style="stroke:#ff0000;stroke-width:21"/>
</g>
</g>
</g>
<text id="edge-label" class="d" transform="translate(1177 1827) rotate(-5)" text-anchor="middle" font-size="46" textLength="236" lengthAdjust="spacingAndGlyphs">n = 2663</text>

<g id="nodes">
<g transform="translate(1105 1129)">
<g id="n1" transform="rotate(4.3)"><circle class="s" r="12" cy="-892"/></g>
<g id="n2" transform="rotate(6.6)"><circle class="s" r="12" cy="-892"/></g>
<g id="n3" transform="rotate(8.9)"><circle class="s" r="12" cy="-892"/></g>
<g id="n4" transform="rotate(11.2)"><circle class="s" r="12" cy="-892"/></g>
<g id="n6" transform="rotate(16.5)"><circle class="s" r="12" cy="-892"/></g>
<g id="n7" transform="rotate(18.8)"><circle class="s" r="12" cy="-892"/></g>
<g id="n8" transform="rotate(21.2)"><circle class="s" r="12" cy="-892"/></g>
<g id="n9" transform="rotate(23.7)"><circle class="m" r="14" cy="-892"/></g>
<g id="n10" transform="rotate(26.2)"><circle class="s" r="12" cy="-892"/></g>
<g id="n11" transform="rotate(28.7)"><circle class="s" r="12" cy="-892"/></g>
<g id="n12" transform="rotate(31.1)"><circle class="s" r="12" cy="-892"/></g>
<g id="n13" transform="rotate(33.7)"><circle class="m" r="14" cy="-892"/></g>
<g id="n14" transform="rotate(36)"><circle class="s" r="12" cy="-892"/></g>
<g id="n15" transform="rotate(38.9)"><circle class="m" r="14" cy="-892"/></g>
<g id="n16" transform="rotate(41.7)"><circle class="m" r="13" cy="-892"/></g>
<g id="n17" transform="rotate(44.1)"><circle class="s" r="12" cy="-892"/></g>
<g id="n18" transform="rotate(46.5)"><circle class="s" r="12" cy="-892"/></g>
<g id="n19" transform="rotate(48.9)"><circle class="s" r="12" cy="-892"/></g>
<g id="n20" transform="rotate(51.3)"><circle class="m" r="14" cy="-892"/></g>
<g id="n21" transform="rotate(53.7)"><circle class="s" r="12" cy="-892"/></g>
<g id="n22" transform="rotate(56.1)"><circle class="m" r="13" cy="-892"/></g>
<g id="n23" transform="rotate(58.5)"><circle class="s" r="12" cy="-892"/></g>
<g id="n24" transform="rotate(60.8)"><circle class="s" r="12" cy="-892"/></g>
<g id="n25" transform="rotate(63)"><circle class="s" r="12" cy="-892"/></g>
<g id="n26" transform="rotate(65.2)"><circle class="s" r="12" cy="-892"/></g>
<g id="n27" transform="rotate(67.6)"><circle class="m" r="13" cy="-892"/></g>
<g id="n28" transform="rotate(69.9)"><circle class="s" r="12" cy="-892"/></g>
<g id="n29" transform="rotate(72.3)"><circle class="s" r="12" cy="-892"/></g>
<g id="n30" transform="rotate(74.7)"><circle class="s" r="12" cy="-892"/></g>
<g id="n31" transform="rotate(77)"><circle class="s" r="12" cy="-892"/></g>
<g id="n32" transform="rotate(79.3)"><circle class="s" r="12" cy="-892"/></g>
<g id="n33" transform="rotate(81.9)"><circle class="m" r="14" cy="-892"/></g>
<g id="n34" transform="rotate(84.4)"><circle class="s" r="12" cy="-892"/></g>
<g id="n35" transform="rotate(86.5)"><circle class="s" r="12" cy="-892"/></g>
<g id="n36" transform="rotate(88.8)"><circle class="s" r="12" cy="-892"/></g>
<g id="n37" transform="rotate(91.3)"><circle class="m" r="14" cy="-892"/></g>
<g id="n38" transform="rotate(93.7)"><circle class="s" r="12" cy="-892"/></g>
<g id="n39" transform="rotate(96)"><circle class="s" r="12" cy="-892"/></g>
<g id="n40" transform="rotate(98.4)"><circle class="m" r="14" cy="-892"/></g>
<g id="n41" transform="rotate(101.1)"><circle class="s" r="12" cy="-892"/></g>
<g id="n42" transform="rotate(103.4)"><circle class="s" r="12" cy="-892"/></g>
<g id="n43" transform="rotate(105.7)"><circle class="s" r="12" cy="-892"/></g>
<g id="n44" transform="rotate(108.2)"><circle class="m" r="14" cy="-892"/></g>
<g id="n45" transform="rotate(110.7)"><circle class="s" r="12" cy="-892"/></g>
<g id="n46" transform="rotate(113)"><circle class="s" r="12" cy="-892"/></g>
<g id="n47" transform="rotate(115.4)"><circle class="s" r="12" cy="-892"/></g>
<g id="n49" transform="rotate(121.2)"><circle class="s" r="12" cy="-892"/></g>
<g id="n52" transform="rotate(135)"><circle class="s" r="12" cy="-892"/></g>
<g id="n53" transform="rotate(137.4)"><circle class="s" r="12" cy="-892"/></g>
<g id="n54" transform="rotate(139.9)"><circle class="s" r="12" cy="-892"/></g>
<g id="n55" transform="rotate(142.3)"><circle class="s" r="12" cy="-892"/></g>
<g id="n56" transform="rotate(144.8)"><circle class="s" r="12" cy="-892"/></g>
<g id="n57" transform="rotate(147.2)"><circle class="s" r="12" cy="-892"/></g>
<g id="n58" transform="rotate(149.8)"><circle class="s" r="12" cy="-892"/></g>
<g id="n59" transform="rotate(152.1)"><circle class="s" r="12" cy="-892"/></g>
<g id="n62" transform="rotate(164.4)"><circle class="s" r="12" cy="-892"/></g>
<g id="n63" transform="rotate(166.8)"><circle class="s" r="12" cy="-892"/></g>
<g id="n64" transform="rotate(169.3)"><circle class="s" r="12" cy="-892"/></g>
<g id="n65" transform="rotate(172.1)"><circle class="m" r="13" cy="-892"/></g>
<g id="n66" transform="rotate(175)"><circle class="m" r="13" cy="-892"/></g>
<g id="n67" transform="rotate(177.7)"><circle class="s" r="12" cy="-892"/></g>
<g id="n68" transform="rotate(180)"><circle class="s" r="12" cy="-892"/></g>
<g id="n69" transform="rotate(182.6)"><circle class="s" r="12" cy="-892"/></g>
<g id="n70" transform="rotate(185.2)"><circle class="s" r="12" cy="-892"/></g>
<g id="n72" transform="rotate(192.3)"><circle class="s" r="12" cy="-892"/></g>
<g id="n73" transform="rotate(194.4)"><circle class="s" r="12" cy="-892"/></g>
<g id="n74" transform="rotate(196.7)"><circle class="s" r="12" cy="-892"/></g>
<g id="n75" transform="rotate(199.3)"><circle class="m" r="13" cy="-892"/></g>
<g id="n76" transform="rotate(202)"><circle class="m" r="13" cy="-892"/></g>
<g id="n77" transform="rotate(204.6)"><circle class="s" r="12" cy="-892"/></g>
<g id="n78" transform="rotate(207.1)"><circle class="s" r="12" cy="-892"/></g>
<g id="n79" transform="rotate(209.4)"><circle class="s" r="12" cy="-892"/></g>
<g id="n80" transform="rotate(211.8)"><circle class="s" r="12" cy="-892"/></g>
<g id="n83" transform="rotate(229.5)"><circle class="s" r="12" cy="-892"/></g>
<g id="n84" transform="rotate(231.9)"><circle class="s" r="12" cy="-892"/></g>
<g id="n85" transform="rotate(234.2)"><circle class="s" r="12" cy="-892"/></g>
<g id="n86" transform="rotate(236.6)"><circle class="s" r="12" cy="-892"/></g>
<g id="n87" transform="rotate(239)"><circle class="s" r="12" cy="-892"/></g>
<g id="n88" transform="rotate(241.3)"><circle class="s" r="12" cy="-892"/></g>
<g id="n89" transform="rotate(243.7)"><circle class="s" r="12" cy="-892"/></g>
<g id="n90" transform="rotate(246.1)"><circle class="s" r="12" cy="-892"/></g>
<g id="n91" transform="rotate(248.5)"><circle class="s" r="12" cy="-892"/></g>
<g id="n92" transform="rotate(250.9)"><circle class="s" r="12" cy="-892"/></g>
<g id="n93" transform="rotate(253.3)"><circle class="s" r="12" cy="-892"/></g>
<g id="n96" transform="rotate(263.8)"><circle class="s" r="12" cy="-892"/></g>
<g id="n97" transform="rotate(266.1)"><circle class="s" r="12" cy="-892"/></g>
<g id="n98" transform="rotate(268.6)"><circle class="m" r="13" cy="-892"/></g>
<g id="n99" transform="rotate(271.1)"><circle class="m" r="13" cy="-892"/></g>
<g id="n100" transform="rotate(273.5)"><circle class="s" r="12" cy="-892"/></g>
<g id="n101" transform="rotate(275.9)"><circle class="s" r="12" cy="-892"/></g>
<g id="n103" transform="rotate(281.4)"><circle class="s" r="12" cy="-892"/></g>
<g id="n104" transform="rotate(283.6)"><circle class="s" r="12" cy="-892"/></g>
<g id="n105" transform="rotate(285.9)"><circle class="s" r="12" cy="-892"/></g>
<g id="n106" transform="rotate(288.4)"><circle class="s" r="12" cy="-892"/></g>
<g id="n108" transform="rotate(294.9)"><circle class="s" r="12" cy="-892"/></g>
<g id="n109" transform="rotate(297.4)"><circle class="m" r="14" cy="-892"/></g>
<g id="n110" transform="rotate(299.7)"><circle class="s" r="12" cy="-892"/></g>
<g id="n112" transform="rotate(305.6)"><circle class="s" r="12" cy="-892"/></g>
<g id="n113" transform="rotate(307.9)"><circle class="s" r="12" cy="-892"/></g>
<g id="n114" transform="rotate(310.1)"><circle class="m" r="13" cy="-892"/></g>
<g id="n115" transform="rotate(312.5)"><circle class="s" r="12" cy="-892"/></g>
<g id="n116" transform="rotate(315.1)"><circle class="s" r="12" cy="-892"/></g>
<g id="n117" transform="rotate(317.7)"><circle class="m" r="14" cy="-892"/></g>
<g id="n119" transform="rotate(326.4)"><circle class="s" r="12" cy="-892"/></g>
<g id="n120" transform="rotate(328.8)"><circle class="s" r="12" cy="-892"/></g>
<g id="n121" transform="rotate(331.2)"><circle class="s" r="12" cy="-892"/></g>
<g id="n122" transform="rotate(333.6)"><circle class="s" r="12" cy="-892"/></g>
<g id="n123" transform="rotate(336)"><circle class="s" r="12" cy="-892"/></g>
<g id="n124" transform="rotate(338.2)"><circle class="s" r="12" cy="-892"/></g>
<g id="n125" transform="rotate(340.4)"><circle class="s" r="12" cy="-892"/></g>
<g id="n126" transform="rotate(342.6)"><circle class="s" r="12" cy="-892"/></g>
<g id="n127" transform="rotate(344.9)"><circle class="m" r="14" cy="-892"/></g>
<g id="n128" transform="rotate(347.2)"><circle class="s" r="12" cy="-892"/></g>
<g id="n129" transform="rotate(349.5)"><circle class="s" r="12" cy="-892"/></g>
<g id="n130" transform="rotate(351.9)"><circle class="m" r="14" cy="-892"/></g>
<g id="n131" transform="rotate(354.3)"><circle class="s" r="12" cy="-892"/></g>
<g id="n132" transform="rotate(356.7)"><circle class="s" r="12" cy="-892"/></g>
<g id="n133" transform="rotate(358.8)"><circle class="s" r="12" cy="-892"/></g>
</g>

<g id="n48-5A00"><circle class="m" r="14" cy="-892" transform="translate(1105 1129)rotate(118.3)"/><text class="a" x="1890" y="1554" font-size="6" text-anchor="middle">5A00</text></g>
<g id="n0-02"><circle r="17.5" cy="-892" transform="translate(1105 1129)rotate(1.6)" style="fill:#ff6b6b;stroke:#6b2525;stroke-width:3.5"/><text class="a" x="1130" y="240" font-size="7" text-anchor="middle">02</text><text class="d" x="1122" y="207" font-size="20" text-anchor="middle" textLength="186" lengthAdjust="spacingAndGlyphs">Cancer (general)</text></g>
<g id="n5-1B1Z"><circle r="17.5" cy="-892" transform="translate(1105 1129)rotate(13.8)" style="fill:#ff6b6b;stroke:#6b2525;stroke-width:3.5"/><text class="a" x="1318" y="265.5" font-size="7" text-anchor="middle">1B1Z</text><text class="d" x="1334" y="236" font-size="20.5" textLength="295" lengthAdjust="spacingAndGlyphs">Tuberculosis, unspecified</text></g>
<g id="n50-5A03"><circle r="20" cy="-892" transform="translate(1105 1129)rotate(124.2)" style="fill:#ff6b6b;stroke:#6b2525;stroke-width:3.5"/><text class="a" x="1843" y="1633.5" font-size="9" text-anchor="middle">5A03</text></g>
<g id="n60-5B81"><circle r="20" cy="-892" transform="translate(1105 1129)rotate(155.2)" style="fill:#ff6a6a;stroke:#6b2525;stroke-width:3.5"/><text class="a" x="1479" y="1943" font-size="12" text-anchor="middle">5B81</text></g>
<g id="n102-DB9Z"><circle r="18" cy="-892" transform="translate(1105 1129)rotate(278.6)" style="fill:#ff6868;stroke:#6b2525;stroke-width:3.5"/><text class="a" x="223" y="998" font-size="7" text-anchor="middle">DB9Z</text><text class="d" x="187" y="988" font-size="20" text-anchor="end" textLength="156" lengthAdjust="spacingAndGlyphs">Liver disease,</text><text class="d" x="187" y="1016" font-size="20" text-anchor="end" textLength="132" lengthAdjust="spacingAndGlyphs">unspecified</text></g>
<g id="n107-FA0Z"><circle r="19" cy="-892" transform="translate(1105 1129)rotate(291.8)" style="fill:#ff6666;stroke:#6b2525;stroke-width:3.5"/><text class="a" x="277" y="800.5" font-size="8.5" text-anchor="middle">FA0Z</text><text class="d" x="244" y="791" font-size="20" text-anchor="end" textLength="156" lengthAdjust="spacingAndGlyphs">Osteoarthritis</text></g>
<g id="n111-FA25"><circle r="21" cy="-892" transform="translate(1105 1129)rotate(302.6)" style="fill:#ff6060;stroke:#6b2222;stroke-width:4"/><text class="a" x="354" y="652.5" font-size="11" text-anchor="middle">FA25</text><text class="d" x="324" y="634" font-size="20" text-anchor="end" textLength="56" lengthAdjust="spacingAndGlyphs">Gout</text></g>
<g id="n95-CA23.3"><circle r="21" cy="-892" transform="translate(1105 1129)rotate(260.6)" style="fill:#ff6262;stroke:#6b2222;stroke-width:4"/><text class="a" x="225" y="1279" font-size="11.5" text-anchor="middle" textLength="38" lengthAdjust="spacingAndGlyphs">CA23.3</text></g>
<g id="n94-CA22"><circle r="24.5" cy="-892" transform="translate(1105 1129)rotate(256.6)" style="fill:#ff5555;stroke:#6b2020;stroke-width:4.5"/><text class="a" x="237" y="1342" font-size="18" text-anchor="middle" textLength="45" lengthAdjust="spacingAndGlyphs">CA22</text><text class="d" x="183" y="1301" font-size="20" text-anchor="end" textLength="131" lengthAdjust="spacingAndGlyphs">Respiratory</text><text class="d" x="183" y="1328" font-size="20" text-anchor="end" textLength="108" lengthAdjust="spacingAndGlyphs">disorders</text></g>
<g id="n71-8B20"><circle r="26.5" cy="-892" transform="translate(1105 1129)rotate(188.8)" style="fill:#ff4a4a;stroke:#6e1c1c;stroke-width:4.5"/><text class="a" x="969" y="2019" font-size="23" text-anchor="middle" textLength="55" lengthAdjust="spacingAndGlyphs">8B20</text><text class="a" x="956" y="2088" font-size="32" text-anchor="middle" textLength="109" lengthAdjust="spacingAndGlyphs">Stroke</text></g>
<g id="n61-5C8Z"><circle r="34.5" cy="-892" transform="translate(1105 1129)rotate(160.1)" style="fill:#ff3434;stroke:#761616;stroke-width:5"/><text class="a" x="1408" y="1985" font-size="44" text-anchor="middle" textLength="113" lengthAdjust="spacingAndGlyphs">5C8Z</text><text class="a" x="1479" y="2019" font-size="34" textLength="388" lengthAdjust="spacingAndGlyphs">Lipoprotein disorders /</text><text class="a" x="1479" y="2060" font-size="34" textLength="215" lengthAdjust="spacingAndGlyphs">dyslipidemia</text></g>
<g id="n118-GB61"><circle r="33.5" cy="-892" transform="translate(1105 1129)rotate(322.1)" style="fill:#ff3333;stroke:#761616;stroke-width:5"/><text class="a" x="560" y="441" font-size="41" text-anchor="middle" textLength="108" lengthAdjust="spacingAndGlyphs">GB61</text><text class="a" x="303" y="364" font-size="47" text-anchor="middle" textLength="544" lengthAdjust="spacingAndGlyphs">Chronic Kidney Disease</text><text class="a" x="322" y="421" font-size="35" text-anchor="middle" textLength="164" lengthAdjust="spacingAndGlyphs">(n = 1237)</text></g>
<g id="n82-BA6Z"><circle r="35.5" cy="-892" transform="translate(1105 1129)rotate(225)" style="fill:#ff3232;stroke:#761616;stroke-width:5"/><text class="a" x="475" y="1780" font-size="49" text-anchor="middle" textLength="133" lengthAdjust="spacingAndGlyphs">BA6Z</text><text class="a" x="106" y="1765" font-size="34" textLength="270" lengthAdjust="spacingAndGlyphs">Ischaemic heart</text><text class="a" x="14" y="1807" font-size="34" textLength="371" lengthAdjust="spacingAndGlyphs">diseases, unspecified</text></g>
<g id="n81-BA00"><circle r="50" cy="-892" transform="translate(1105 1129)rotate(217.5)" style="fill:#ff0000;stroke:#7a0000;stroke-width:6"/><text class="a" x="566" y="1881" font-size="104" text-anchor="middle" textLength="267" lengthAdjust="spacingAndGlyphs">BA00</text><text class="a" x="483" y="1958" font-size="60" text-anchor="middle" textLength="264" lengthAdjust="spacingAndGlyphs">Essential</text><text class="a" x="441" y="2029" font-size="60" text-anchor="middle" textLength="380" lengthAdjust="spacingAndGlyphs">hypertension</text><text class="a" x="436" y="2075" font-size="35" text-anchor="middle" textLength="165" lengthAdjust="spacingAndGlyphs">(n = 4055)</text></g>
<g id="n51-5A11"><circle r="46" cy="-892" transform="translate(1105 1129)rotate(129.8)" style="fill:#ff1414;stroke:#6e0000;stroke-width:6"/><text class="a" x="1792" y="1734" font-size="80" text-anchor="middle" textLength="186" lengthAdjust="spacingAndGlyphs">5A11</text><text class="a" x="1824" y="1812" font-size="60" textLength="185" lengthAdjust="spacingAndGlyphs">Type 2</text><text class="a" x="1824" y="1883" font-size="60" textLength="244" lengthAdjust="spacingAndGlyphs">diabetes</text><text class="a" x="1940" y="1929" font-size="35" text-anchor="middle" textLength="165" lengthAdjust="spacingAndGlyphs">(n = 3158)</text></g>
</g>
</svg>
